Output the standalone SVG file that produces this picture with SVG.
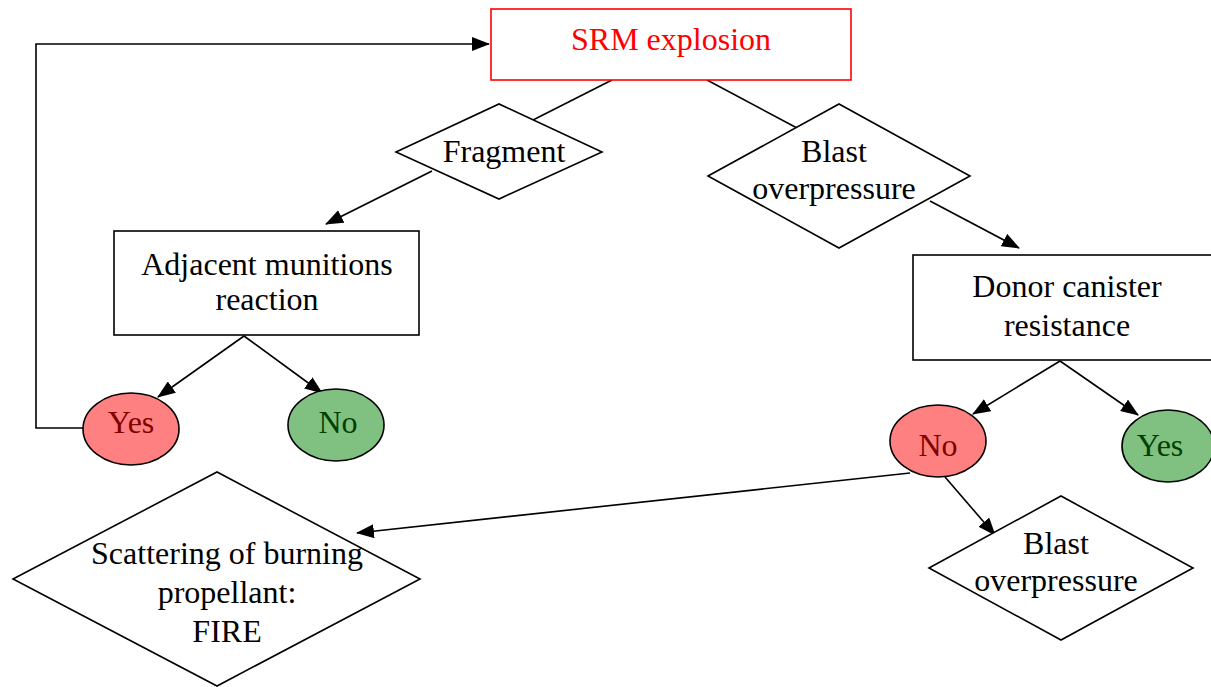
<svg xmlns="http://www.w3.org/2000/svg" width="1211" height="687" viewBox="0 0 1211 687">
<defs>
<marker id="ah" markerWidth="18" markerHeight="14" refX="17" refY="7" orient="auto" markerUnits="userSpaceOnUse">
<path d="M0,0 L18,7 L0,14 Z" fill="#000"/>
</marker>
<style>
.box{fill:#fff;stroke:#000;stroke-width:1.6}
.dia{fill:#fff;stroke:#000;stroke-width:1.6}
.t{font-family:"Liberation Serif","Times New Roman",serif;font-size:32px;fill:#000;text-anchor:middle}
.ln{fill:none;stroke:#000;stroke-width:1.6}
.red{fill:#FF8080;stroke:#000;stroke-width:1.6}
.grn{fill:#80C080;stroke:#000;stroke-width:1.6}
</style>
</defs>
<rect width="1211" height="687" fill="#fff"/>
<g id="connectors">
<polyline class="ln" points="83,428 36,428 36,44 489,44" marker-end="url(#ah)"/>
<line class="ln" x1="612" y1="80" x2="533" y2="120"/>
<line class="ln" x1="432" y1="171" x2="326" y2="224" marker-end="url(#ah)"/>
<line class="ln" x1="707" y1="80" x2="797" y2="128"/>
<line class="ln" x1="930" y1="201" x2="1019" y2="248" marker-end="url(#ah)"/>
<line class="ln" x1="244" y1="336" x2="158" y2="397" marker-end="url(#ah)"/>
<line class="ln" x1="244" y1="336" x2="322" y2="393" marker-end="url(#ah)"/>
<line class="ln" x1="1060" y1="361" x2="973" y2="414" marker-end="url(#ah)"/>
<line class="ln" x1="1060" y1="361" x2="1138" y2="415" marker-end="url(#ah)"/>
<line class="ln" x1="945" y1="477" x2="995" y2="535" marker-end="url(#ah)"/>
<line class="ln" x1="910" y1="473" x2="357" y2="533" marker-end="url(#ah)"/>
</g>
<g id="srm">
<rect x="491" y="9" width="360" height="71" fill="#fff" stroke="#FF0000" stroke-width="1.6"/>
<text class="t" x="671" y="50" style="fill:#FF0000">SRM explosion</text>
</g>
<g id="fragment">
<polygon class="dia" points="396,152 499,104 602,152 499,199"/>
<text class="t" x="504" y="162">Fragment</text>
</g>
<g id="blast1">
<polygon class="dia" points="708,176 839,104 970,176 839,248"/>
<text class="t" x="834" y="162">Blast</text>
<text class="t" x="834" y="199">overpressure</text>
</g>
<g id="adjacent">
<rect class="box" x="114" y="231" width="305" height="104"/>
<text class="t" x="267" y="275">Adjacent munitions</text>
<text class="t" x="267" y="310">reaction</text>
</g>
<g id="donor">
<rect class="box" x="913" y="255" width="310" height="105"/>
<text class="t" x="1067" y="297">Donor canister</text>
<text class="t" x="1067" y="336">resistance</text>
</g>
<g id="yes1">
<ellipse class="red" cx="131" cy="429" rx="48" ry="36"/>
<text class="t" x="131" y="433" style="fill:#800000">Yes</text>
</g>
<g id="no1">
<ellipse class="grn" cx="336" cy="425" rx="48" ry="36"/>
<text class="t" x="338" y="433" style="fill:#004000">No</text>
</g>
<g id="no2">
<ellipse class="red" cx="938" cy="441" rx="48" ry="36"/>
<text class="t" x="938" y="456" style="fill:#800000">No</text>
</g>
<g id="yes2">
<ellipse class="grn" cx="1168" cy="446" rx="46" ry="36"/>
<text class="t" x="1160" y="456" style="fill:#004000">Yes</text>
</g>
<g id="blast2">
<polygon class="dia" points="929,568 1061,496 1193,568 1061,640"/>
<text class="t" x="1056" y="554">Blast</text>
<text class="t" x="1056" y="591">overpressure</text>
</g>
<g id="scattering">
<polygon class="dia" points="13,579 217,472 420,579 217,686"/>
<text class="t" x="227" y="564">Scattering of burning</text>
<text class="t" x="227" y="603">propellant:</text>
<text class="t" x="227" y="642">FIRE</text>
</g>
</svg>
